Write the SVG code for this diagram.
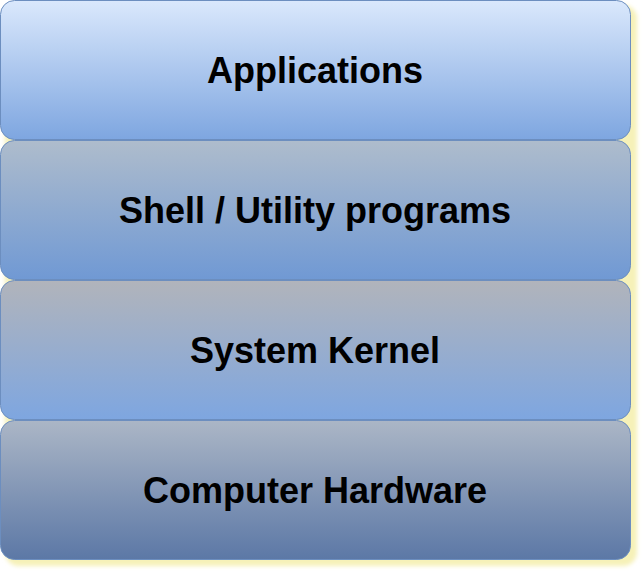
<svg xmlns="http://www.w3.org/2000/svg" width="642" height="572" viewBox="0 0 642 572">
<style>
text{font-family:"Liberation Sans",Arial,sans-serif;font-weight:bold;font-size:36px;fill:#000;text-anchor:middle}
.b{stroke:#6c8ebf;stroke-width:1}
.s{fill:#f5f0b0;opacity:0.9}
</style>
<defs>
<linearGradient id="g1" x1="0" y1="0" x2="0" y2="1"><stop offset="0" stop-color="#dae8fc"/><stop offset="1" stop-color="#7ea6e0"/></linearGradient>
<linearGradient id="g2" x1="0" y1="0" x2="0" y2="1"><stop offset="0" stop-color="#aebccc"/><stop offset="1" stop-color="#7099d4"/></linearGradient>
<linearGradient id="g3" x1="0" y1="0" x2="0" y2="1"><stop offset="0" stop-color="#b1b4bb"/><stop offset="1" stop-color="#7ea6e0"/></linearGradient>
<linearGradient id="g4" x1="0" y1="0" x2="0" y2="1"><stop offset="0" stop-color="#abb6c6"/><stop offset="1" stop-color="#5c78a6"/></linearGradient>
<filter id="bl"><feGaussianBlur stdDeviation="2"/></filter>
</defs>
<g filter="url(#bl)">
<rect class="s" x="5" y="5" width="632" height="561" rx="14"/>
</g>
<g id="applications"><rect class="b" x="0.5" y="0.5" width="630" height="139" rx="14" fill="url(#g1)"/><text x="315" y="83">Applications</text></g>
<g id="shell"><rect class="b" x="0.5" y="140.5" width="630" height="139" rx="14" fill="url(#g2)"/><text x="315" y="223">Shell / Utility programs</text></g>
<g id="kernel"><rect class="b" x="0.5" y="280.5" width="630" height="139" rx="14" fill="url(#g3)"/><text x="315" y="363">System Kernel</text></g>
<g id="hardware"><rect class="b" x="0.5" y="420.5" width="630" height="139" rx="14" fill="url(#g4)"/><text x="315" y="503">Computer Hardware</text></g>
<g id="connectors"/>
</svg>
